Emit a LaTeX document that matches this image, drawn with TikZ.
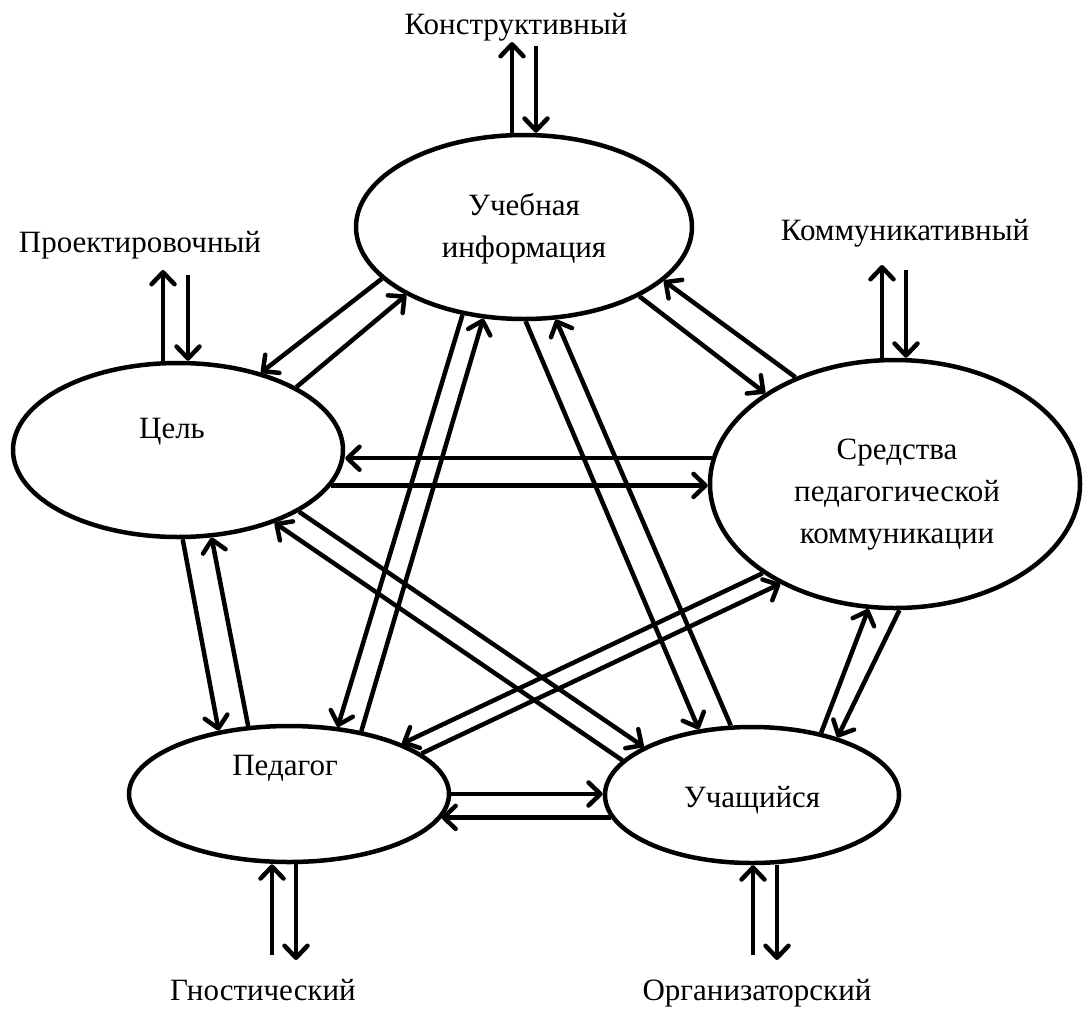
\documentclass[tikz,border=0pt]{standalone}
\usepackage{fontspec}
\setmainfont{Liberation Serif}
\usetikzlibrary{arrows.meta,shapes.geometric}

\begin{document}
\begin{tikzpicture}[x=1pt, y=-1pt,
        every node/.style={font=\fontsize{31}{42}\selectfont},
        oval/.style={draw, ellipse, line width=4.5pt, inner sep=0pt},
        arr/.style={line width=4.5pt, -{Straight Barb[length=12pt,width=23pt,round]}},
        lbl/.style={inner sep=0pt, align=center}]

        \useasboundingbox (0,0) rectangle (1084,1012);

        %Ellipses
        \node [oval, minimum width=336pt, minimum height=184pt] (info)    at (524,227) {};
        \node [oval, minimum width=330pt, minimum height=174pt] (goal)    at (178,450) {};
        \node [oval, minimum width=370pt, minimum height=248pt] (tools)   at (895,484) {};
        \node [oval, minimum width=320pt, minimum height=136pt] (teacher) at (289,794) {};
        \node [oval, minimum width=294pt, minimum height=136pt] (student) at (752,795) {};

        %Ellipse texts
        \node [lbl] (infotext)    at (524,229) {Учебная\\информация};
        \node [lbl] (goaltext)    at (172,432) {Цель};
        \node [lbl] (toolstext)   at (897,495) {Средства\\педагогической\\коммуникации};
        \node [lbl] (teachertext) at (285,768) {Педагог};
        \node [lbl] (studenttext) at (752,800) {Учащийся};

        %Function labels
        \node [lbl] (constr)  at (516,27)  {Конструктивный};
        \node [lbl] (design)  at (140,245) {Проектировочный};
        \node [lbl] (comm)    at (905,233) {Коммуникативный};
        \node [lbl] (gnostic) at (263,990) {Гностический};
        \node [lbl] (organ)   at (757,993) {Организаторский};

        %Free ends of the function arrows
        \coordinate (k1) at (512,42);
        \coordinate (k2) at (536,46);
        \coordinate (p1) at (163,270);
        \coordinate (p2) at (188,275);
        \coordinate (c1) at (882,265);
        \coordinate (c2) at (906,270);
        \coordinate (g1) at (272,955);
        \coordinate (g2) at (296,960);
        \coordinate (o1) at (753,955);
        \coordinate (o2) at (777,960);

        %Function arrows
        \draw [arr] (k1 |- info.north)    -- (k1);
        \draw [arr] (k2)                  -- (k2 |- info.north);
        \draw [arr] (p1 |- goal.north)    -- (p1);
        \draw [arr] (p2)                  -- (p2 |- goal.north);
        \draw [arr] (c1 |- tools.north)   -- (c1);
        \draw [arr] (c2)                  -- (c2 |- tools.north);
        \draw [arr] (g1)                  -- (g1 |- teacher.south);
        \draw [arr] (g2 |- teacher.south) -- (g2);
        \draw [arr] (o1)                  -- (o1 |- student.south);
        \draw [arr] (o2 |- student.south) -- (o2);

        %Information and goal
        \draw [arr] (info.200)    -- (goal.43);
        \draw [arr] (goal.28)     -- (info.210);

        %Information and tools
        \draw [arr] (tools.133)   -- (info.339);
        \draw [arr] (info.329)    -- (tools.145);

        %Goal and tools
        \draw [arr] (tools.172)   -- (tools.172 -| goal.east);
        \draw [arr] (goal.347)    -- (goal.347 -| tools.west);

        %Teacher and student
        \draw [arr] (teacher.east) -- (teacher.east -| student.west);
        \draw [arr] (student.189)  -- (student.189 -| teacher.351);

        %Goal and teacher
        \draw [arr] (goal.273)    -- (teacher.138);
        \draw [arr] (teacher.121) -- (goal.291);

        %Tools and student
        \draw [arr] (tools.272)   -- (student.34);
        \draw [arr] (student.42)  -- (tools.258);

        %Information and teacher
        \draw [arr] (info.235)    -- (teacher.54);
        \draw [arr] (teacher.41)  -- (info.246);

        %Information and student
        \draw [arr] (info.271)    -- (student.129);
        \draw [arr] (student.107) -- (info.289);

        %Goal and student
        \draw [arr] (student.165) -- (goal.323);
        \draw [arr] (goal.333)    -- (student.156);

        %Tools and teacher
        \draw [arr] (tools.214)   -- (teacher.24);
        \draw [arr] (teacher.17)  -- (tools.221);

\end{tikzpicture}
\end{document}
